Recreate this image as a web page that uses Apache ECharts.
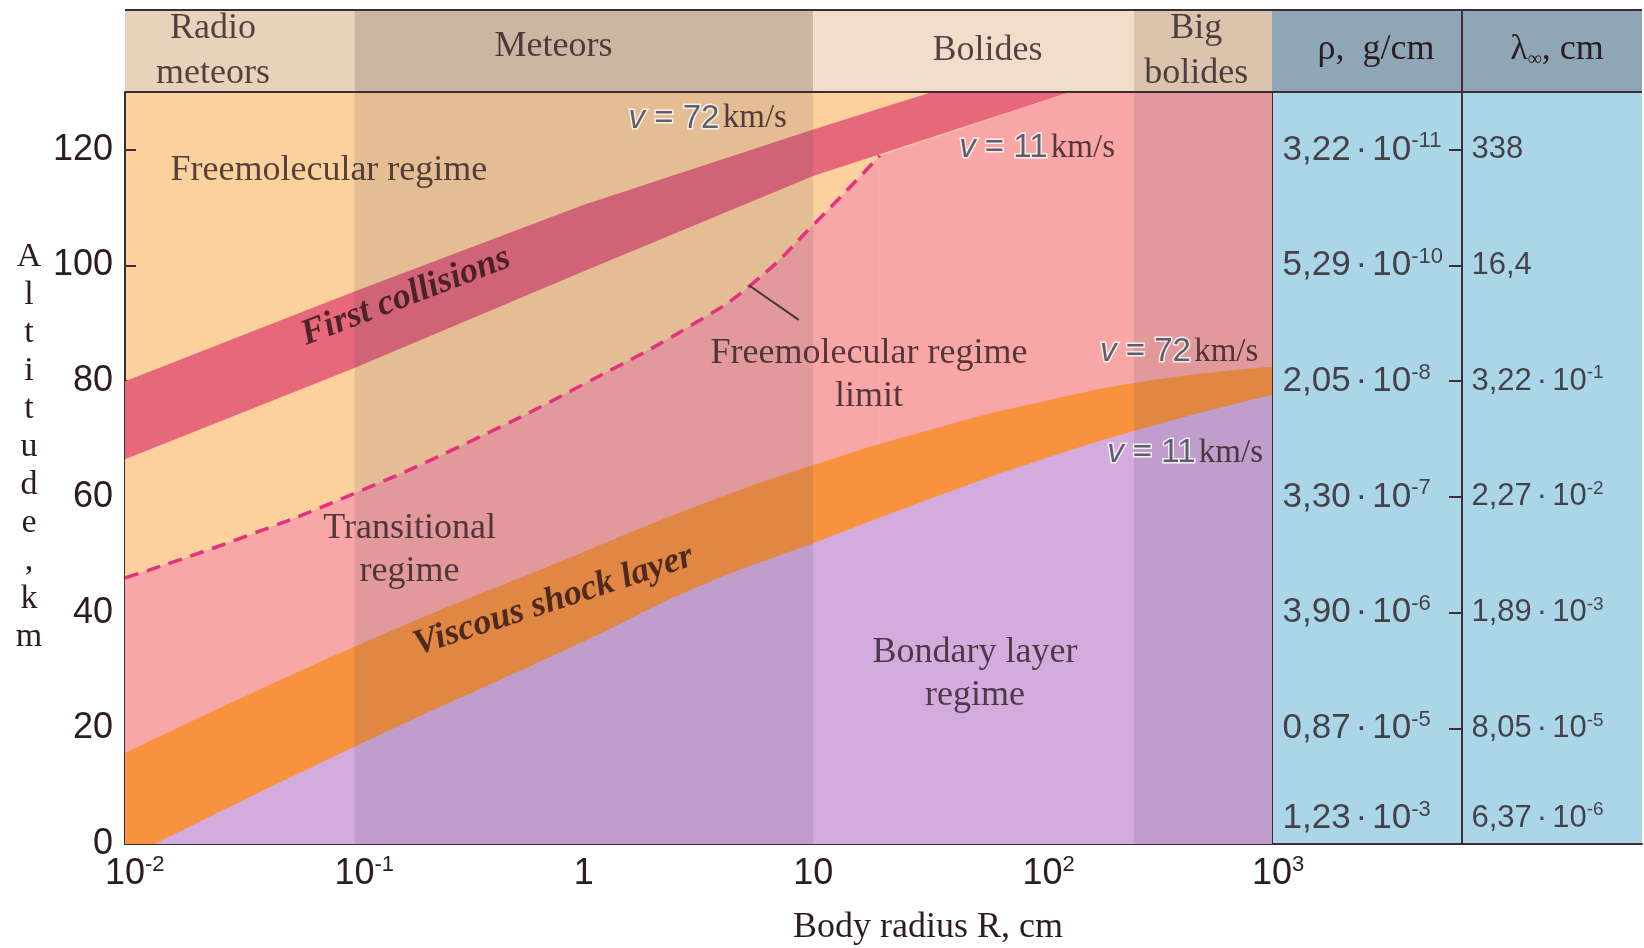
<!DOCTYPE html>
<html>
<head>
<meta charset="utf-8">
<script src="https://cdn.jsdelivr.net/npm/echarts@6/dist/echarts.min.js"></script>
<style>html,body{margin:0;padding:0;background:#fff}#main{width:1644px;height:948px}</style>
</head>
<body>
<div id="main"></div>
<script>
// region boundaries: body radius R (cm) -> altitude (km)
var stripeTopR   = [0.01, 0.1, 1, 10, 33, 1000];
var stripeTopAlt = [80, 95.5, 110.5, 123.5, 130, 130];
var stripeBotR   = [0.01, 0.1, 1, 10, 132];
var stripeBotAlt = [66.5, 82.3, 99, 115.5, 130];
var limitR   = [0.01, 0.0316, 0.1, 0.316, 1, 3.16, 5.6, 10, 19.5];
var limitAlt = [46, 52.8, 60.6, 69.5, 79.5, 90.4, 97.3, 107, 119];
var shockTopR   = [0.01, 0.1, 1, 3.16, 10, 31.6, 100, 316, 1000];
var shockTopAlt = [15.7, 34.1, 50.5, 58.5, 65.5, 71.5, 76.5, 80.3, 82.5];
var shockBotR   = [0.0135, 0.1, 1, 3.16, 10, 31.6, 100, 316, 1000];
var shockBotAlt = [0, 16.8, 35, 44.5, 52, 59.5, 66.5, 72.5, 77.6];

// body classes (header columns)
var classNames = ['Radio\nmeteors', 'Meteors', 'Bolides', 'Big\nbolides'];
var classFrom  = [0.01, 0.1, 10, 250];
var classTo    = [0.1, 10, 250, 1000];

// tables on the right
var tableAlt = [120, 100, 80, 60, 40, 20, 4.5];
var rhoMant = ['3,22', '5,29', '2,05', '3,30', '3,90', '0,87', '1,23'];
var rhoExp  = ['-11', '-10', '-8', '-7', '-6', '-5', '-3'];
var lamMant = ['338', '16,4', '3,22', '2,27', '1,89', '8,05', '6,37'];
var lamExp  = ['', '', '-1', '-2', '-3', '-5', '-6'];
var altTicks = [0, 20, 40, 60, 80, 100, 120];
var tableTicks = [20, 40, 60, 80, 100, 120];

var ink = '#2b1c20', axisCol = '#3e2c34';
var serif = "'Liberation Serif', 'DejaVu Serif', serif";
var sans = "'Liberation Sans', Arial, sans-serif";

function pts(xs, ys) { return xs.map(function (x, i) { return [x, ys[i]]; }); }

function fill(data, color, smooth, z) {
	return {
		type: 'line', data: data, smooth: smooth || false, symbol: 'none', silent: true, z: z || 2,
		lineStyle: { width: 0, opacity: 0 },
		areaStyle: { color: color, opacity: 1, origin: 'start' }
	};
}

function supRich(size) {
	var s = Math.round(size * 0.62);
	return {
		b: { fontFamily: sans, fontSize: size, color: ink, lineHeight: size + 4 },
		d: { fontFamily: sans, fontSize: size, color: ink, padding: [0, 5] },
		s: { fontFamily: sans, fontSize: s, color: ink, verticalAlign: 'top' },
		p: { fontFamily: sans, fontSize: s, color: 'transparent', verticalAlign: 'top' }
	};
}
function powText(m, e) { return e ? '{b|' + m + '}{d|·}{b|10}{s|' + e + '}' : '{b|' + m + '}'; }

// pink (transitional) upper edge continues along the stripe after the dashed limit ends
var lastR = limitR[limitR.length - 1];
var pinkB = [[lastR, limitAlt[limitAlt.length - 1]]]
	.concat(pts(stripeBotR, stripeBotAlt).filter(function (p) { return p[0] > lastR; }))
	.concat([[1000, 130]]);

// text inside the plot: [text, R, alt, rotate, kind]
var notes = [
	['Freemolecular regime', 0.0774, 116.4, 0, 'plain'],
	['First collisions', 0.1675, 94.6, 21, 'bold'],
	['72', 3.47, 125.4, 0, 'v'],
	['11', 94.6, 120.3, 0, 'v'],
	['Freemolecular regime\nlimit', 17.5, 81, 0, 'plain'],
	['72', 394, 85, 0, 'v'],
	['11', 418, 67.6, 0, 'v'],
	['Transitional\nregime', 0.174, 50.8, 0, 'plain'],
	['Viscous shock layer', 0.738, 42, 18, 'bold'],
	['Bondary layer\nregime', 50.7, 29.3, 0, 'plain']
];
var headerAt = [[0.0242, 0.5], [0.738, 0.55], [57.5, 0.5], [468, 0.5]];

var noteItems = notes.map(function (n) {
	var lab = { show: true, position: 'inside', rotate: n[3], color: ink };
	if (n[4] === 'v') {
		lab.formatter = '{i|v}{n| = ' + n[0] + '} {u|km/s}';
		lab.rich = {
			i: { fontFamily: sans, fontStyle: 'italic', fontSize: 33, color: '#3a3a4a', textBorderColor: '#fff', textBorderWidth: 3 },
			n: { fontFamily: sans, fontSize: 33, color: '#3a3a4a', textBorderColor: '#fff', textBorderWidth: 3 },
			u: { fontFamily: serif, fontSize: 33, color: ink }
		};
	} else {
		lab.formatter = n[0];
		lab.fontFamily = serif;
		lab.fontSize = 36;
		lab.lineHeight = 43;
		if (n[4] === 'bold') { lab.fontWeight = 'bold'; lab.fontStyle = 'italic'; lab.color = '#2a1216'; }
	}
	return { value: [n[1], n[2]], label: lab };
});

// darker shading of the "Meteors" and "Big bolides" columns
var shade = 'rgba(90,80,100,0.15)';

var chart = echarts.init(document.getElementById('main'));

var option = {
	animation: false,
	grid: [
		{ left: 125, top: 92, width: 1147, bottom: 104, show: true, backgroundColor: '#fdd19e', borderWidth: 0 },
		{ left: 125, top: 10, width: 1147, height: 82 },
		{ left: 1272, top: 92, width: 190, bottom: 104, show: true, backgroundColor: '#aad6e8', borderWidth: 0 },
		{ left: 1462, top: 92, width: 180, bottom: 104, show: true, backgroundColor: '#aad6e8', borderWidth: 0 }
	],
	xAxis: [
		{
			type: 'log', logBase: 10, min: 0.01, max: 1000, gridIndex: 0,
			axisLine: { lineStyle: { color: axisCol, width: 2 } },
			axisTick: { inside: true, length: 11, lineStyle: { color: axisCol, width: 2 } },
			minorTick: { show: false }, splitLine: { show: false },
			axisLabel: {
				margin: 10, rich: supRich(36),
				formatter: function (v) {
					var e = Math.round(Math.log(v) / Math.LN10);
					if (e === 0) return '{b|1}';
					if (e === 1) return '{b|10}';
					var ex = (e < 0 ? '-' : '') + Math.abs(e);
					return '{p|' + ex + '}{b|10}{s|' + ex + '}';
				}
			}
		},
		{ type: 'log', logBase: 10, min: 0.01, max: 1000, gridIndex: 1, show: false },
		{ type: 'value', min: 0, max: 1, gridIndex: 2, axisLine: { lineStyle: { color: axisCol, width: 2 } }, axisTick: { show: false }, axisLabel: { show: false }, splitLine: { show: false } },
		{ type: 'value', min: 0, max: 1, gridIndex: 3, axisLine: { lineStyle: { color: axisCol, width: 2 } }, axisTick: { show: false }, axisLabel: { show: false }, splitLine: { show: false } }
	],
	yAxis: [
		{
			type: 'value', min: 0, max: 130, gridIndex: 0,
			axisLine: { show: true, lineStyle: { color: axisCol, width: 2 } },
			axisTick: { show: true, inside: true, length: 11, customValues: altTicks, lineStyle: { color: axisCol, width: 2 } },
			axisLabel: { customValues: altTicks, fontFamily: sans, fontSize: 36, color: ink, margin: 12 },
			splitLine: { show: false }
		},
		{ type: 'value', min: 0, max: 1, gridIndex: 1, show: false },
		{
			type: 'value', min: 0, max: 130, gridIndex: 2,
			axisLine: { show: true, lineStyle: { color: axisCol, width: 2 } },
			axisTick: { show: true, length: 13, customValues: tableTicks, lineStyle: { color: axisCol, width: 2 } },
			axisLabel: { show: false }, splitLine: { show: false }
		},
		{
			type: 'value', min: 0, max: 130, gridIndex: 3,
			axisLine: { show: true, lineStyle: { color: axisCol, width: 2 } },
			axisTick: { show: true, length: 13, customValues: tableTicks, lineStyle: { color: axisCol, width: 2 } },
			axisLabel: { show: false }, splitLine: { show: false }
		}
	],
	series: [
		fill(pts(stripeTopR, stripeTopAlt), '#e6687a'),
		fill(pts(stripeBotR, stripeBotAlt), '#fdd19e'),
		fill(pts(limitR, limitAlt), '#f9a6a6', true),
		fill(pinkB, '#f9a6a6'),
		fill(pts(shockTopR, shockTopAlt), '#f8923e', true),
		fill(pts(shockBotR, shockBotAlt), '#d3abdc', true),
		fill([[classFrom[1], 130], [classTo[1], 130]], shade, false, 3),
		fill([[classFrom[3], 130], [classTo[3], 130]], shade, false, 3),
		{
			type: 'line', data: pts(limitR, limitAlt), smooth: true, symbol: 'none', z: 4, silent: true,
			lineStyle: { color: '#e3317f', width: 3.5, type: [14, 9] }
		},
		{
			type: 'line', data: [[5.24, 96.6], [8.65, 90.6]], symbol: 'none', z: 4, silent: true,
			lineStyle: { color: '#4a3436', width: 2 }
		},
		{
			type: 'scatter', data: noteItems, symbolSize: 1, itemStyle: { color: 'transparent' }, z: 5, silent: true
		},
		{
			// header columns
			type: 'scatter', xAxisIndex: 1, yAxisIndex: 1, symbolSize: 1, itemStyle: { color: 'transparent' }, silent: true,
			data: classNames.map(function (c, i) {
				return { value: headerAt[i], label: { show: true, position: 'inside', formatter: c, fontFamily: serif, fontSize: 36, lineHeight: 45, color: ink } };
			}),
			markArea: {
				silent: true,
				data: classFrom.map(function (f, i) {
					return [{ xAxis: f, itemStyle: { color: ['#e9d2bc', '#ccb6a1', '#f0ddca', '#dcc3ad'][i] } }, { xAxis: classTo[i] }];
				})
			}
		},
		{
			type: 'scatter', xAxisIndex: 2, yAxisIndex: 2, symbolSize: 1, itemStyle: { color: 'transparent' }, silent: true,
			label: { show: true, position: 'right', distance: 10, rich: supRich(35) },
			data: tableAlt.map(function (a, i) { return { value: [0, a], label: { formatter: powText(rhoMant[i], rhoExp[i]) } }; })
		},
		{
			type: 'scatter', xAxisIndex: 3, yAxisIndex: 3, symbolSize: 1, itemStyle: { color: 'transparent' }, silent: true,
			label: { show: true, position: 'right', distance: 9, rich: supRich(31) },
			data: tableAlt.map(function (a, i) { return { value: [0, a], label: { formatter: powText(lamMant[i], lamExp[i]) } }; })
		}
	],
	graphic: [
		{ type: 'rect', shape: { x: 1272, y: 10, width: 190, height: 82 }, style: { fill: '#8fa6b6' } },
		{ type: 'rect', shape: { x: 1462, y: 10, width: 180, height: 82 }, style: { fill: '#8fa6b6' } },
		{ type: 'line', z: 100, shape: { x1: 125, y1: 10, x2: 1642, y2: 10 }, style: { stroke: axisCol, lineWidth: 2 } },
		{ type: 'line', z: 100, shape: { x1: 125, y1: 92, x2: 1642, y2: 92 }, style: { stroke: axisCol, lineWidth: 2 } },
		{ type: 'line', z: 100, shape: { x1: 1462, y1: 10, x2: 1462, y2: 92 }, style: { stroke: axisCol, lineWidth: 2 } },
		{
			type: 'text', z: 100, x: 1376, y: 50,
			style: { text: 'ρ,  g/cm', font: '36px ' + serif, fill: ink, align: 'center', verticalAlign: 'middle' }
		},
		{
			type: 'text', z: 100, x: 1557, y: 50,
			style: {
				text: '{a|λ}{s|∞}{a|, cm}', align: 'center', verticalAlign: 'middle',
				rich: { a: { fontFamily: serif, fontSize: 36, fill: ink, lineHeight: 40 }, s: { fontFamily: serif, fontSize: 20, fill: ink, verticalAlign: 'bottom' } }
			}
		},
		{
			type: 'text', z: 100, x: 928, y: 928,
			style: { text: 'Body radius R, cm', font: '36px ' + serif, fill: ink, align: 'center', verticalAlign: 'middle' }
		},
		{
			type: 'text', z: 100, x: 29, y: 447,
			style: { text: 'Altitude,km'.split('').join('\n'), font: '34px ' + serif, lineHeight: 38, fill: ink, align: 'center', verticalAlign: 'middle' }
		}
	]
};

chart.setOption(option);
</script>
</body>
</html>
